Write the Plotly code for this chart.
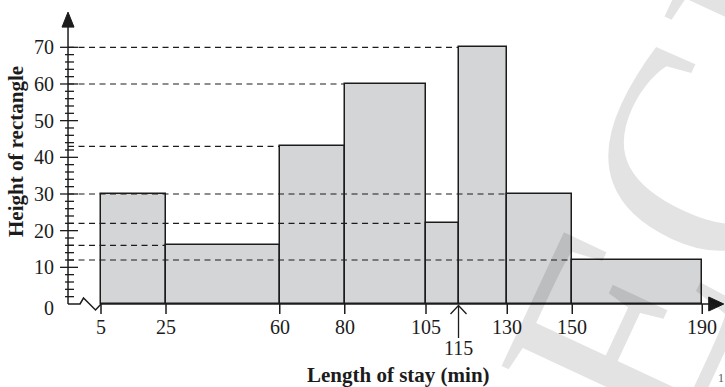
import plotly.graph_objects as go

# Class boundaries (minutes) and rectangle heights of the histogram
edges = [5, 25, 60, 80, 105, 115, 130, 150, 190]
heights = [30, 16, 43, 60, 22, 70, 30, 12]

# Axis labelling
y_tick_values = [0, 10, 20, 30, 40, 50, 60, 70]
y_minor_step = 2
x_tick_labels = ["5", "25", "60", "80", "105", "115", "130", "150", "190"]
pointer_edge = 115          # boundary labelled below the others, with a pointer

x_title = "Length of stay (min)"
y_title = "Height of rectangle"

# ---------------------------------------------------------------------------
W, H = 725, 387
PX_PER_X = 3.25             # horizontal scale, px per minute
PX_PER_Y = 3.667            # vertical scale, px per unit of height
X_MIN = -26.08
Y_ZERO_PX = 304             # pixel row of the x axis
X_RANGE = [X_MIN, X_MIN + W / PX_PER_X]
Y_RANGE = [-(H - Y_ZERO_PX) / PX_PER_Y, Y_ZERO_PX / PX_PER_Y]

AXIS_X = -5.15              # where the vertical axis is drawn
X_TIP = 196.6               # end of the horizontal axis arrow
Y_TIP = 79.6                # end of the vertical axis arrow

SERIF = "Liberation Serif, Times New Roman, serif"
INK = "#1c1c1c"
BAR_FILL = "#d4d5d7"

lefts, rights = edges[:-1], edges[1:]
centers = [(a + b) / 2 for a, b in zip(lefts, rights)]
widths = [b - a for a, b in zip(lefts, rights)]

fig = go.Figure()
fig.add_trace(go.Bar(
    x=centers, y=heights, width=widths, base=0,
    marker=dict(color=BAR_FILL, line=dict(color=INK, width=1.5)),
    hoverinfo="skip",
))

shapes = []
axis_line = dict(color=INK, width=1.5)

# vertical axis with arrow head
shapes.append(dict(type="line", xref="x", yref="y", x0=AXIS_X, x1=AXIS_X,
                   y0=0, y1=Y_TIP - 2, line=axis_line))
shapes.append(dict(type="path", xref="x", yref="y",
                   xsizemode="pixel", ysizemode="pixel",
                   xanchor=AXIS_X, yanchor=Y_TIP,
                   path="M0,0 L-6,-15 L6,-15 Z",
                   fillcolor=INK, line=dict(color=INK, width=1)))

# major and minor ticks crossing the vertical axis
for v in range(y_minor_step, max(y_tick_values) + 1, y_minor_step):
    major = v % 10 == 0
    shapes.append(dict(type="line", xref="x", yref="y",
                       xsizemode="pixel", xanchor=AXIS_X,
                       x0=-8 if major else -3, x1=10 if major else 6,
                       y0=v, y1=v, line=dict(color=INK, width=1.3)))

# horizontal axis: broken segment near the origin, then the main line
shapes.append(dict(type="path", xref="x", yref="y",
                   xsizemode="pixel", ysizemode="pixel",
                   xanchor=AXIS_X, yanchor=0,
                   path="M0,0 L12,0 L15.5,6 L27.5,-6 L33,0",
                   line=axis_line))
shapes.append(dict(type="line", xref="x", yref="y", x0=edges[0], x1=X_TIP - 3,
                   y0=0, y1=0, line=axis_line))
shapes.append(dict(type="path", xref="x", yref="y",
                   xsizemode="pixel", ysizemode="pixel",
                   xanchor=X_TIP, yanchor=0,
                   path="M0,0 L-15,7 L-15,-7 Z",
                   fillcolor=INK, line=dict(color=INK, width=1)))

# class-boundary ticks below the axis
for e in edges:
    if e == pointer_edge:
        shapes.append(dict(type="line", xref="x", yref="y",
                           ysizemode="pixel", yanchor=0,
                           x0=e, x1=e, y0=-2, y1=-34,
                           line=dict(color=INK, width=1.3)))
        shapes.append(dict(type="path", xref="x", yref="y",
                           xsizemode="pixel", ysizemode="pixel",
                           xanchor=e, yanchor=0,
                           path="M-8,-10 L0,-1.5 L8,-10",
                           line=dict(color=INK, width=1.3)))
    else:
        shapes.append(dict(type="line", xref="x", yref="y",
                           ysizemode="pixel", yanchor=0,
                           x0=e, x1=e, y0=0, y1=-10,
                           line=dict(color=INK, width=1.5)))

# dashed guides from the vertical axis to each rectangle top
for h in sorted(set(heights)):
    target = max(l for l, hh in zip(lefts, heights) if hh == h)
    shapes.append(dict(type="line", xref="x", yref="y", layer="above",
                       x0=AXIS_X, x1=target, y0=h, y1=h,
                       line=dict(color=INK, width=1.2, dash="6px,4.5px")))

annotations = []
tick_font = dict(family=SERIF, size=20, color=INK)

for v in y_tick_values:
    annotations.append(dict(x=AXIS_X, y=v, xref="x", yref="y", text=str(v),
                            showarrow=False, xanchor="right", yanchor="middle",
                            xshift=-12, yshift=-4 if v == 0 else 0,
                            font=tick_font))

for e, lab in zip(edges, x_tick_labels):
    annotations.append(dict(x=e, y=0, xref="x", yref="y", text=lab,
                            showarrow=False, xanchor="center", yanchor="middle",
                            yshift=-44 if e == pointer_edge else -23,
                            font=tick_font))

title_font = dict(family=SERIF, size=21, color=INK)
annotations.append(dict(x=398.5 / W, y=(H - 375) / H, xref="paper", yref="paper",
                        text=f"<b>{x_title}</b>", showarrow=False,
                        xanchor="center", yanchor="middle", font=title_font))
annotations.append(dict(x=16 / W, y=(H - 152) / H, xref="paper", yref="paper",
                        text=f"<b>{y_title}</b>", showarrow=False, textangle=-90,
                        xanchor="center", yanchor="middle", font=title_font))

# faint diagonal watermark lettering
annotations.append(dict(x=757 / W, y=(H - 44) / H, xref="paper", yref="paper",
                        text="SPECIMEN", showarrow=False, textangle=-65,
                        xanchor="center", yanchor="middle",
                        font=dict(family=SERIF, size=300, color="rgba(0,0,0,0.11)")))

# page number at the corner
annotations.append(dict(x=716 / W, y=0, xref="paper", yref="paper", text="1",
                        showarrow=False, xanchor="left", yanchor="bottom",
                        yshift=0, font=dict(family=SERIF, size=12, color="#555")))

fig.update_layout(
    width=W, height=H,
    margin=dict(l=0, r=0, t=0, b=0),
    paper_bgcolor="white", plot_bgcolor="white",
    showlegend=False,
    xaxis=dict(range=X_RANGE, visible=False, fixedrange=True),
    yaxis=dict(range=Y_RANGE, visible=False, fixedrange=True),
    shapes=shapes, annotations=annotations,
    bargap=0,
)

fig.write_html("out.html")
